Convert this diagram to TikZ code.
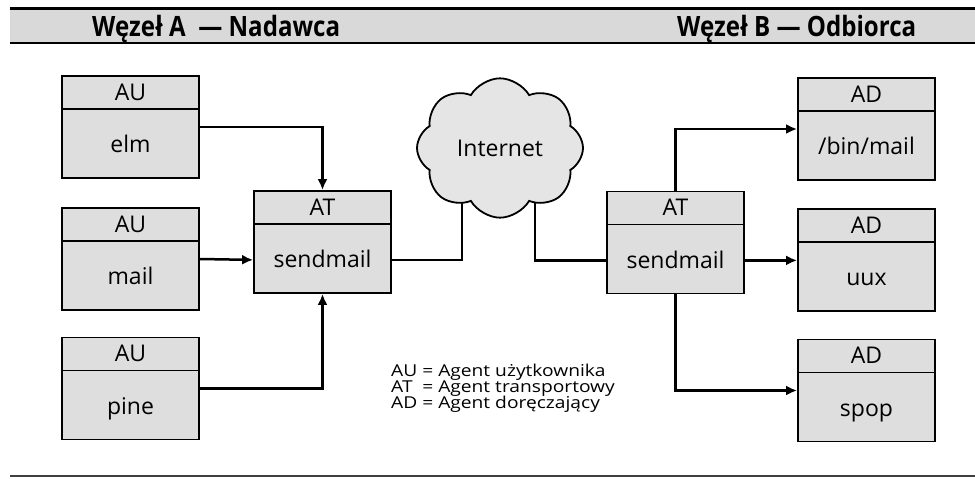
\documentclass[tikz,border=0pt]{standalone}
\usepackage{fontspec}
\setmainfont{Open Sans}
\newfontfamily\legendfont[FakeStretch=1.17]{Open Sans}
\newfontfamily\headfont[FakeStretch=0.86]{Open Sans}
\usetikzlibrary{shapes.symbols,arrows.meta,backgrounds}
\definecolor{boxgray}{gray}{0.87}
\definecolor{bandgray}{gray}{0.85}
\definecolor{cloudgray}{gray}{0.90}
\tikzset{
  agent/.style={draw=black, line width=1.8pt, fill=boxgray, minimum width=137pt, minimum height=102pt, inner sep=0pt},
  lbl/.style={font=\fontsize{23}{27}\selectfont, inner sep=0pt, anchor=base},
  hdr/.style={font=\headfont\bfseries\fontsize{28}{32}\selectfont, inner sep=0pt, anchor=base west},
  conn/.style={line width=2.5pt, -{Latex[length=11pt,width=10pt]}},
  plainline/.style={line width=2.5pt},
}
\newcommand\agentbox[5]{%
  \node[agent] (#1) at (#2,#3) {};
  \draw[line width=1.5pt] ([yshift=-34pt]#1.north west) -- ([yshift=-34pt]#1.north east);
  \coordinate (#1-low) at ([yshift=34pt]#1.south);
  \node[lbl] (#1-t) at ([yshift=-25pt]#1.north) {#4};
  \node[lbl] (#1-b) at ([yshift=-8pt]#1-low) {#5};
}
\begin{document}
\begin{tikzpicture}[x=1pt,y=-1pt]
\useasboundingbox (0,0) rectangle (975,479);
% header band
\fill[bandgray] (10,8) rectangle (975,43);
\draw[line width=3pt] (10,8) -- (975,8);
\draw[line width=2pt] (10,43) -- (975,43);
\node[hdr] (hA) at (92,36.5) {Węzeł A\ \ — Nadawca};
\node[hdr] (hB) at (677,36.5) {Węzeł B — Odbiorca};
\draw[line width=2.5pt, black!75] (10,476) -- (975,476);
% boxes
\agentbox{elm}{130.5}{127}{AU}{elm}
\agentbox{mail}{130.5}{259}{AU}{mail}
\agentbox{pine}{130.5}{388.5}{AU}{pine}
\agentbox{ATL}{322.5}{242}{AT}{sendmail}
\agentbox{ATR}{675.5}{242.5}{AT}{sendmail}
\agentbox{binmail}{866.5}{129}{AD}{/bin/mail}
\agentbox{uux}{866.5}{260}{AD}{uux}
\agentbox{spop}{866.5}{390.5}{AD}{spop}
% cloud
\node[cloud, cloud puffs=8, cloud puff arc=120, draw, line width=1.8pt, fill=cloudgray,
      minimum width=166pt, minimum height=103pt, inner sep=0pt,
      font=\fontsize{23}{27}\selectfont] (net) at (500,148) {Internet};
% connectors
\draw[conn] (elm.east) -| (ATL.north);
\draw[conn] (mail.east) -- (ATL-low -| ATL.west);
\draw[conn] (pine.east) -| (ATL.south);
\begin{scope}[on background layer]
\draw[plainline] (ATL-low -| ATL.east) -| ([xshift=-38pt]net.center);
\draw[plainline] (ATR-low -| ATR.west) -| ([xshift=35pt]net.center);
\end{scope}
\draw[conn] (ATR.north) |- (binmail.west);
\draw[conn] (ATR-low -| ATR.east) -- (ATR-low -| uux.west);
\draw[conn] (ATR.south) |- (spop.west);
% legend
\node[anchor=base west, inner sep=0pt, font=\legendfont\fontsize{16.4}{12.5}\selectfont] (legend) at (391,376.5)
  {\begin{tabular}[t]{@{}l@{\ =\ }l@{}}AU & Agent użytkownika\\ AT & Agent transportowy\\ AD & Agent doręczający\end{tabular}};
\end{tikzpicture}
\end{document}
